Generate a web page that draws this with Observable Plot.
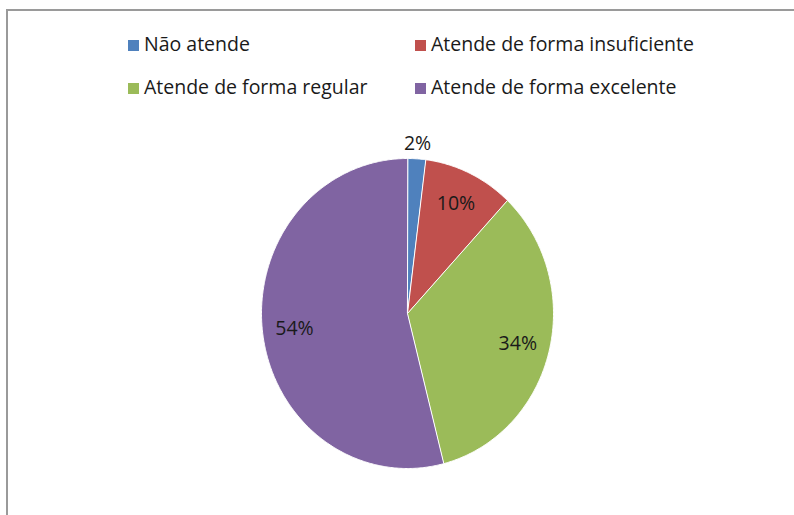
<!DOCTYPE html>
<html>
<head>
<meta charset="utf-8">
<script src="https://cdn.jsdelivr.net/npm/d3@7"></script>
<script src="https://cdn.jsdelivr.net/npm/@observablehq/plot@0.6"></script>
<style>
  html, body { margin: 0; padding: 0; background: #fff; }
  body { width: 794px; height: 515px; position: relative; overflow: hidden; font-family: "Open Sans", sans-serif; }
  #frame { position: absolute; left: 6px; top: 9px; width: 900px; height: 700px; border: 2px solid #9a9a9a; box-sizing: border-box; }
  #legend { position: absolute; left: 0; top: 0; width: 794px; height: 110px; }
  .item { position: absolute; font-size: 19.5px; color: #1a1a1a; white-space: nowrap; line-height: 24px; }
  .sw { display: inline-block; width: 11px; height: 11px; margin-right: 5px; vertical-align: 0px; }
  #chart { position: absolute; left: 0; top: 110px; }
</style>
</head>
<body>
<div id="frame"></div>
<div id="legend"></div>
<div id="chart"></div>
<script>
const categories = ["Não atende", "Atende de forma insuficiente", "Atende de forma regular", "Atende de forma excelente"];
const values = [2, 10, 34, 54];
const colors = ["#4F81BD", "#C0504D", "#9BBB59", "#8064A2"];
const labels = ["2%", "10%", "34%", "54%"];

// legend (2 columns x 2 rows)
const legendPos = [[128, 31.5], [415, 31.5], [128, 74.5], [415, 74.5]];
const legend = document.getElementById("legend");
categories.forEach((c, i) => {
  const d = document.createElement("div");
  d.className = "item";
  d.style.left = legendPos[i][0] + "px";
  d.style.top = legendPos[i][1] + "px";
  d.innerHTML = `<span class="sw" style="background:${colors[i]}"></span>${c}`;
  legend.appendChild(d);
});

// pie geometry from data
const arcs = d3.pie().sort(null).value(d => d)(values);
const points = [];
arcs.forEach((a, i) => {
  const cat = categories[i];
  points.push({cat, x: 0, y: 0});
  const n = Math.max(2, Math.ceil((a.endAngle - a.startAngle) / (Math.PI / 360)));
  for (let k = 0; k <= n; k++) {
    const t = a.startAngle + (a.endAngle - a.startAngle) * k / n;
    points.push({cat, x: Math.sin(t), y: Math.cos(t)});
  }
});
// small slices get their label outside the pie, others inside
const labelData = arcs.map((a, i) => {
  const m = (a.startAngle + a.endAngle) / 2;
  const r = values[i] < 5 ? 1.1 : 0.78;
  return {label: labels[i], x: r * Math.sin(m), y: r * Math.cos(m)};
});

const cx = 407, cy = 203, rx = 146, ry = 155;
const plot = Plot.plot({
  width: 794,
  height: 405,
  margin: 0,
  x: {domain: [-1, 1], range: [cx - rx, cx + rx], axis: null},
  y: {domain: [-1, 1], range: [cy + ry, cy - ry], axis: null},
  color: {domain: categories, range: colors},
  style: {background: "transparent", fontFamily: "Open Sans, sans-serif"},
  marks: [
    Plot.line(points, {x: "x", y: "y", z: "cat", fill: "cat", stroke: "#ffffff", strokeWidth: 1, curve: "linear-closed"}),
    Plot.text(labelData, {x: "x", y: "y", text: "label", fontSize: 19.5, fill: "#1a1a1a"})
  ]
});
document.getElementById("chart").appendChild(plot);
</script>
</body>
</html>
